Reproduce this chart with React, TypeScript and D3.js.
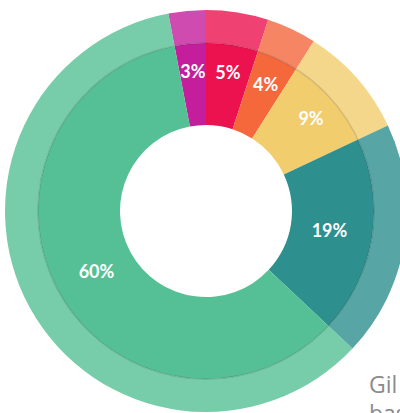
import React from "react";
import * as d3 from "d3";

const categories = ["A", "B", "C", "D", "E", "F"];
const values = [3, 5, 4, 9, 19, 60];
const colors = ["#C41E9C", "#EC1250", "#F4683C", "#F1CD6E", "#2E8F8F", "#55C095"];
const sideText = ["Gil", "bas"];

export default function App() {
  const W = 400, H = 413;
  const cx = 206, cy = 211;
  const rHole = 86, rMid = 168, rOuter = 201;
  const total = d3.sum(values);
  const start = -(values[0] / total) * Math.PI * 2;
  const pie = d3.pie<number>().sort(null).value((d) => d).startAngle(start).endAngle(start + Math.PI * 2);
  const arcs = pie(values);
  const inner = d3.arc<d3.PieArcDatum<number>>().innerRadius(rHole).outerRadius(rMid);
  const outer = d3.arc<d3.PieArcDatum<number>>().innerRadius(rMid).outerRadius(rOuter);
  const labelArc = (d: d3.PieArcDatum<number>) => {
    const r = d.value < 10 ? 140 : 125;
    return d3.arc<d3.PieArcDatum<number>>().innerRadius(r).outerRadius(r).centroid(d);
  };
  return (
    <svg width={W} height={H} style={{ position: "absolute", left: 0, top: 0, background: "#fff" }}>
      <g transform={`translate(${cx},${cy})`}>
        {arcs.map((a, i) => (
          <path key={"o" + categories[i]} d={outer(a) || ""} fill={colors[i]} opacity={0.8} />
        ))}
        {arcs.map((a, i) => (
          <path key={"i" + categories[i]} d={inner(a) || ""} fill={colors[i]} />
        ))}
        <circle r={rMid} fill="none" stroke="rgba(0,0,0,0.13)" strokeWidth={1.5} />
        {arcs.map((a, i) => {
          const [x, y] = labelArc(a);
          return (
            <text key={"t" + categories[i]} x={x} y={y} dy="0.35em" textAnchor="middle"
              fill="#fff" fontFamily="Lato" fontWeight="bold" fontSize={18}>
              {`${a.value}%`}
            </text>
          );
        })}
      </g>
      {sideText.map((t, i) => (
        <text key={t} x={369} y={393 + i * 29} fill="#8c8c8c" fontFamily="Open Sans" fontSize={23}>{t}</text>
      ))}
    </svg>
  );
}
